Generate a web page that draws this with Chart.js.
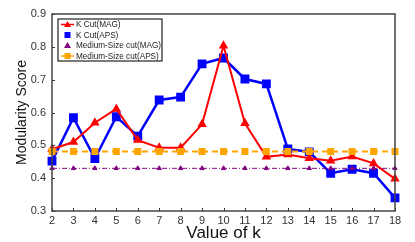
<!DOCTYPE html>
<html>
<head>
<meta charset="utf-8">
<script src="https://cdn.jsdelivr.net/npm/chart.js@4/dist/chart.umd.min.js"></script>
<style>
  html, body { margin: 0; padding: 0; background: #fff; }
  #wrap { width: 415px; height: 242px; }
</style>
</head>
<body>
<div id="wrap"><canvas id="chart" width="415" height="242"></canvas></div>
<script>
/* ===============================
   Data
================================ */
const kValues = ["2","3","4","5","6","7","8","9","10","11","12","13","14","15","16","17","18"];
const kCutMAG = [0.488, 0.51, 0.569, 0.611, 0.516, 0.493, 0.493, 0.564, 0.803, 0.567, 0.465, 0.472, 0.461, 0.453, 0.466, 0.445, 0.398];
const kCutAPS = [0.452, 0.584, 0.46, 0.587, 0.528, 0.638, 0.647, 0.748, 0.766, 0.702, 0.687, 0.489, 0.48, 0.415, 0.427, 0.415, 0.34];
const mediumMAG = kValues.map(() => 0.43);
const mediumAPS = kValues.map(() => 0.481);
const yTicks = [0.3, 0.4, 0.5, 0.6, 0.7, 0.8, 0.9];

const FONT = "'Liberation Sans', Arial, sans-serif";

/* ===============================
   Frame + inward ticks + legend
================================ */
const framePlugin = {
  id: "frame",
  afterDraw(chart) {
    const ctx = chart.ctx;
    const a = chart.chartArea;
    const xs = chart.scales.x;
    const ys = chart.scales.y;

    ctx.save();
    ctx.strokeStyle = "#333";
    ctx.lineWidth = 1;
    ctx.beginPath();
    kValues.forEach((k, i) => {
      const px = Math.round(xs.getPixelForValue(i)) + 0.5;
      ctx.moveTo(px, a.bottom);
      ctx.lineTo(px, a.bottom - 3);
    });
    yTicks.forEach(v => {
      const py = Math.round(ys.getPixelForValue(v)) + 0.5;
      ctx.moveTo(a.left, py);
      ctx.lineTo(a.left + 3, py);
    });
    ctx.stroke();

    ctx.lineWidth = 1.5;
    ctx.strokeStyle = "#444";
    ctx.strokeRect(a.left, a.top, a.right - a.left, a.bottom - a.top);

    // legend box
    const lx = 58, ly = 19, lw = 104, lh = 42;
    ctx.fillStyle = "#fff";
    ctx.fillRect(lx, ly, lw, lh);
    ctx.lineWidth = 1.2;
    ctx.strokeStyle = "#222";
    ctx.strokeRect(lx, ly, lw, lh);

    const rows = [
      { label: "K Cut(MAG)", color: "#ff0000", line: true, style: "tri" },
      { label: "K Cut(APS)", color: "#0000ff", line: false, style: "sq" },
      { label: "Medium-Size cut(MAG)", color: "#800080", line: false, style: "tri" },
      { label: "Medium-Size cut(APS)", color: "#ffa500", line: true, style: "sq" }
    ];
    ctx.font = "8.2px " + FONT;
    ctx.textBaseline = "middle";
    rows.forEach((r, i) => {
      const y = ly + 5.5 + i * 10.5;
      ctx.strokeStyle = r.color;
      ctx.fillStyle = r.color;
      if (r.line) {
        ctx.lineWidth = 1.5;
        ctx.beginPath();
        ctx.moveTo(61, y);
        ctx.lineTo(74, y);
        ctx.stroke();
      }
      ctx.beginPath();
      if (r.style === "tri") {
        ctx.moveTo(67.5, y - 3.5);
        ctx.lineTo(71, y + 2.5);
        ctx.lineTo(64, y + 2.5);
        ctx.closePath();
      } else {
        ctx.rect(64.5, y - 3, 6, 6);
      }
      ctx.fill();
      ctx.fillStyle = "#222";
      ctx.fillText(r.label, 76, y + 0.5);
    });
    ctx.restore();
  }
};

/* ===============================
   Chart
================================ */
new Chart(document.getElementById("chart"), {
  type: "line",
  data: {
    labels: kValues,
    datasets: [
      {
        label: "K Cut(MAG)",
        data: kCutMAG,
        borderColor: "#ff0000",
        backgroundColor: "#ff0000",
        borderWidth: 2,
        pointStyle: "triangle",
        pointRadius: 3.5,
        tension: 0,
        order: 2
      },
      {
        label: "K Cut(APS)",
        data: kCutAPS,
        borderColor: "#0000ff",
        backgroundColor: "#0000ff",
        borderWidth: 2.5,
        pointStyle: "rect",
        pointRadius: 4.5,
        tension: 0,
        order: 3
      },
      {
        label: "Medium-Size cut(MAG)",
        data: mediumMAG,
        borderColor: "#800080",
        backgroundColor: "#800080",
        borderWidth: 1,
        borderDash: [5, 2, 1, 2],
        pointStyle: "triangle",
        pointRadius: 2.5,
        tension: 0,
        order: 1
      },
      {
        label: "Medium-Size cut(APS)",
        data: mediumAPS,
        borderColor: "#ffa500",
        backgroundColor: "#ffa500",
        borderWidth: 2,
        borderDash: [6, 4],
        pointStyle: "rect",
        pointRadius: 3.5,
        tension: 0,
        order: 0
      }
    ]
  },
  options: {
    responsive: false,
    animation: false,
    layout: { padding: { top: 14, right: 20, left: 0, bottom: 0 } },
    plugins: {
      legend: { display: false },
      tooltip: { enabled: false }
    },
    scales: {
      x: {
        offset: false,
        grid: { display: false, drawTicks: false },
        border: { display: false },
        ticks: { color: "#333", font: { family: FONT, size: 11 }, padding: 3, maxRotation: 0, autoSkip: false },
        title: { display: true, text: "Value of k", color: "#111", font: { family: FONT, size: 17 }, padding: { top: 0, bottom: -2 } },
        afterFit(scale) { scale.height = 31; }
      },
      y: {
        min: 0.3,
        max: 0.9,
        grid: { display: false, drawTicks: false },
        border: { display: false },
        afterBuildTicks(scale) { scale.ticks = yTicks.map(v => ({ value: v })); },
        ticks: {
          color: "#333",
          font: { family: FONT, size: 11 },
          padding: 6,
          callback: v => v.toFixed(1)
        },
        title: { display: true, text: "Modularity Score", color: "#111", font: { family: FONT, size: 14 }, padding: { top: 14, bottom: 0 } },
        afterFit(scale) { scale.width = 52; }
      }
    }
  },
  plugins: [framePlugin]
});
</script>
</body>
</html>
